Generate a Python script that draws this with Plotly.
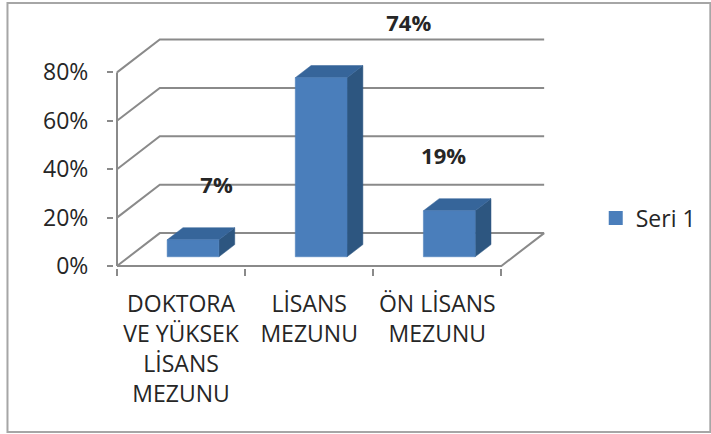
import plotly.graph_objects as go

# ---------------- data ----------------
categories = ["DOKTORA<br>VE YÜKSEK<br>LİSANS<br>MEZUNU", "LİSANS<br>MEZUNU", "ÖN LİSANS<br>MEZUNU"]
values = [7, 74, 19]
value_labels = ["7%", "74%", "19%"]
y_tick_values = [0, 20, 40, 60, 80]
y_tick_labels = ["0%", "20%", "40%", "60%", "80%"]
series_name = "Seri 1"

# ---------------- oblique 3D geometry (axis units) ----------------
DX = 0.334      # depth offset along x (category units)
DY = 13.6       # depth offset along y (percent units)
BAR_W = 0.404   # bar width (category units)
F0, F1 = 0.28, 0.65   # bar front/back depth fractions
LABEL_DX = [0.277, 0.777, 0.049]
LABEL_DY = 25.5

FRONT = "#4a7ebb"
TOP = "#36659a"
SIDE = "#2d5680"
GRID = "#8a8a8a"
TEXT = "#262626"
FONT = "Open Sans"

fig = go.Figure()

n = len(categories)

# walls: gridlines (side wall diagonal + back wall horizontal)
for t in y_tick_values:
    fig.add_trace(go.Scatter(
        x=[0, DX, n + DX], y=[t, t + DY, t + DY], mode="lines",
        line=dict(color=GRID, width=2), hoverinfo="skip", showlegend=False))
# front vertical axis
fig.add_trace(go.Scatter(
    x=[0, 0], y=[y_tick_values[0], y_tick_values[-1]], mode="lines",
    line=dict(color=GRID, width=2), hoverinfo="skip", showlegend=False))
# floor front edge + right edge
fig.add_trace(go.Scatter(
    x=[0, n, n + DX], y=[0, 0, DY], mode="lines",
    line=dict(color=GRID, width=2), hoverinfo="skip", showlegend=False))

# bars
d = F1 - F0
for i, v in enumerate(values):
    c = i + 0.5 + F0 * DX
    x0, x1 = c - BAR_W / 2, c + BAR_W / 2
    yb = F0 * DY
    yt = v + F0 * DY
    # side face
    fig.add_trace(go.Scatter(
        x=[x1, x1, x1 + d * DX, x1 + d * DX, x1],
        y=[yb, yt, yt + d * DY, yb + d * DY, yb],
        fill="toself", fillcolor=SIDE, mode="lines",
        line=dict(color=SIDE, width=0.5), hoverinfo="skip", showlegend=False))
    # top face
    fig.add_trace(go.Scatter(
        x=[x0, x1, x1 + d * DX, x0 + d * DX, x0],
        y=[yt, yt, yt + d * DY, yt + d * DY, yt],
        fill="toself", fillcolor=TOP, mode="lines",
        line=dict(color=TOP, width=0.5), hoverinfo="skip", showlegend=False))
    # front face
    fig.add_trace(go.Scatter(
        x=[x0, x1, x1, x0, x0],
        y=[yb, yb, yt, yt, yb],
        fill="toself", fillcolor=FRONT, mode="lines",
        line=dict(color=FRONT, width=0.5), hoverinfo="skip", showlegend=False))

# data labels
fig.add_trace(go.Scatter(
    x=[i + 0.5 + LABEL_DX[i] for i in range(n)],
    y=[v + LABEL_DY for v in values],
    mode="text", text=value_labels,
    textfont=dict(family=FONT, size=22, color=TEXT, weight="bold"),
    cliponaxis=False, hoverinfo="skip", showlegend=False))

# legend entry
fig.add_trace(go.Scatter(
    x=[None], y=[None], mode="markers", name=series_name,
    marker=dict(symbol="square", size=14, color=FRONT)))

L, R, T, B = 114, 151, 10, 166
PXC, PXP = 128.7, 2.42
fig.update_layout(
    width=711, height=434,
    margin=dict(l=L, r=R, t=T, b=B),
    paper_bgcolor="white", plot_bgcolor="white",
    font=dict(family=FONT, size=23, color=TEXT),
    showlegend=True,
    legend=dict(x=1.085, y=0.194, xanchor="left", yanchor="middle",
                font=dict(family=FONT, size=23, color=TEXT),
                bgcolor="rgba(0,0,0,0)"),
    xaxis=dict(range=[-3 / PXC, (560 - 117) / PXC],
               tickmode="array", tickvals=[i + 0.5 for i in range(n)], ticktext=categories,
               ticks="", showgrid=False, zeroline=False, showline=False,
               ticklabelstandoff=20, automargin=False,
               minor=dict(tickmode="array", tickvals=list(range(n + 1)), ticks="outside",
                          ticklen=7, tickwidth=2, tickcolor=GRID, showgrid=False),
               fixedrange=True),
    yaxis=dict(range=[-2 / PXP, (266 - 10) / PXP],
               tickmode="array", tickvals=y_tick_values, ticktext=y_tick_labels,
               ticks="outside", ticklen=6, tickwidth=2, tickcolor=GRID,
               ticklabelstandoff=14, automargin=False,
               showgrid=False, zeroline=False, showline=False, fixedrange=True),
    shapes=[dict(type="rect", xref="paper", yref="paper",
                 x0=(7 - L) / (711 - L - R), x1=(713 - L) / (711 - L - R),
                 y0=(434 - B - 432) / (434 - B - T), y1=(434 - B - 3) / (434 - B - T),
                 line=dict(color="#a6a6a6", width=2), fillcolor="rgba(0,0,0,0)",
                 layer="below")],
)

fig.write_html("out.html",
               config={"displayModeBar": False},
               post_script="document.body.style.margin='0';document.body.style.overflow='hidden';")
